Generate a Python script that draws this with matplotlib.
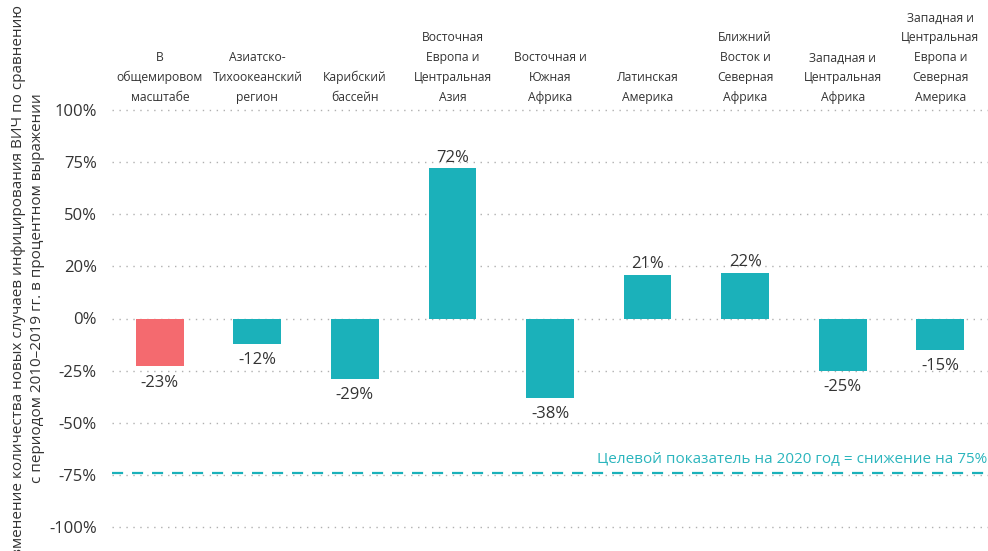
import matplotlib.pyplot as plt

plt.rcParams['font.family'] = ['Open Sans', 'DejaVu Sans']

regions = [
    "В\nобщемировом\nмасштабе",
    "Азиатско-\nТихоокеанский\nрегион",
    "Карибский\nбассейн",
    "Восточная\nЕвропа и\nЦентральная\nАзия",
    "Восточная и\nЮжная\nАфрика",
    "Латинская\nАмерика",
    "Ближний\nВосток и\nСеверная\nАфрика",
    "Западная и\nЦентральная\nАфрика",
    "Западная и\nЦентральная\nЕвропа и\nСеверная\nАмерика",
]
change = [-23, -12, -29, 72, -38, 21, 22, -25, -15]
ytick_vals = [100, 75, 50, 25, 0, -25, -50, -75, -100]
ytick_labels = ["100%", "75%", "50%", "20%", "0%", "-25%", "-50%", "-75%", "-100%"]
target = -74

teal = "#1bb1ba"
red = "#f46a6f"
colors = [red] + [teal] * (len(change) - 1)

fig = plt.figure(figsize=(9.88, 5.51), dpi=100)
ax = fig.add_axes([0.1134, 24 / 551, 0.8866, 417 / 551])

x = list(range(len(change)))
ax.bar(x, change, width=0.49, color=colors, zorder=2)
ax.set_xlim(-0.49, len(change) - 0.51)
ax.set_ylim(-100, 100)

# пунктирная сетка
for yv in ytick_vals:
    ax.axhline(yv, color="#b0b0b0", lw=1.0, ls=(0, (1, 4)), zorder=1, clip_on=False)

ax.set_yticks(ytick_vals)
ax.set_yticklabels(ytick_labels, fontsize=12, color="#333333")
ax.tick_params(axis="y", length=0, pad=11)
ax.set_xticks([])
for s in ax.spines.values():
    s.set_visible(False)

# подписи значений
for xi, v in zip(x, change):
    if v >= 0:
        ax.annotate(f"{v}%", (xi, v), xytext=(0, 2), textcoords="offset points",
                    ha="center", va="bottom", fontsize=12, color="#333333")
    else:
        ax.annotate(f"{v}%", (xi, v), xytext=(0, -6), textcoords="offset points",
                    ha="center", va="top", fontsize=12, color="#333333")

# названия регионов сверху
for xi, name in zip(x, regions):
    ax.annotate(name, (xi, 100), xytext=(0, 4), textcoords="offset points",
                ha="center", va="bottom", fontsize=8.7, color="#333333",
                linespacing=1.7, multialignment="center", annotation_clip=False)

ax.axhline(target, color=teal, lw=1.6, ls=(0, (5, 4)), zorder=2, clip_on=False)
ax.text(len(change) - 0.52, target + 3, "Целевой показатель на 2020 год = снижение на 75%",
        ha="right", va="bottom", fontsize=11, color="#2bb5bd")

fig.text(19 / 988, 1 - 5 / 551,
         "Изменение количества новых случаев инфицирования ВИЧ по сравнению",
         rotation=90, ha="center", va="top", fontsize=11, color="#333333")
fig.text(38 / 988, 1 - 93 / 551,
         "с периодом 2010–2019 гг. в процентном выражении",
         rotation=90, ha="center", va="top", fontsize=11, color="#333333")

fig.savefig("out.png", dpi=100)
